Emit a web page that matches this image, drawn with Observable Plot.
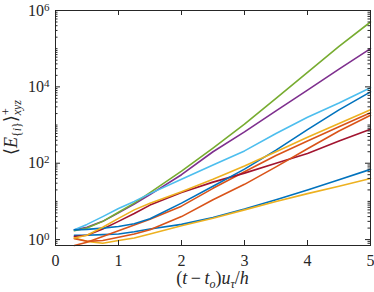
<!DOCTYPE html>
<html><head><meta charset="utf-8">
<script src="https://cdn.jsdelivr.net/npm/d3@7"></script>
<script src="https://cdn.jsdelivr.net/npm/@observablehq/plot@0.6"></script>
<style>
html,body{margin:0;padding:0;background:#fff;}
svg, svg text { font-family: "Liberation Serif", "DejaVu Serif", "Nimbus Roman", "Nimbus Roman No9 L", "FreeSerif", "Noto Serif", "Tinos", "Times New Roman", Times, serif !important; }
</style>
</head><body><div id="chart"></div>
<script>
// ---- data ----
const times = [0.3, 0.5, 0.75, 1, 1.25, 1.5, 2, 2.5, 3, 3.5, 4, 4.5, 5];
const seriesNames = ["blueLow", "orangeA", "yellowLow", "purple", "green", "lightBlue", "darkRed", "blueUp", "orangeB", "yellowUp"];
const blueLow   = [1.3, 1.3, 1.35, 1.4, 1.6, 1.9, 2.5, 3.8, 6.3, 11, 20, 37, 69];
const orangeA   = [0.7, 0.85, 1.2, 1.7, 2.4, 3.4, 7.5, 22, 60, 160, 380, 900, 2100];
const yellowLow = [1.1, 0.9, 0.8, 0.95, 1.1, 1.4, 2.3, 3.6, 6, 10, 16, 25, 40];
const purple    = [1.8, 2.1, 3, 5, 8.5, 15, 50, 200, 660, 2350, 8200, 29000, 100000];
const green     = [1.7, 2.0, 3.0, 5.2, 9, 17, 62, 250, 1050, 5000, 24000, 115000, 500000];
const lightBlue = [1.8, 2.5, 4, 6.5, 10, 16, 38, 90, 210, 600, 1600, 3800, 9500];
const darkRed   = [1.2, 1.3, 1.9, 3, 4.8, 8, 17, 32, 55, 100, 180, 380, 780];
const blueUp    = [1.8, 1.85, 2.0, 2.2, 2.6, 3.5, 9, 25, 70, 220, 760, 2500, 7400];
const orangeB   = [1.05, 0.9, 0.95, 1.15, 1.4, 1.8, 4, 11, 28, 80, 240, 700, 1800];
const yellowUp  = [1.1, 1.3, 2.1, 3.6, 6, 9, 18, 38, 85, 200, 480, 1100, 2500];
const xTickValues = [0, 1, 2, 3, 4, 5];
const xTickLabels = ["0", "1", "2", "3", "4", "5"];
const yTickValues = [1, 100, 10000, 1000000];
const yTickLabels = ["10^0", "10^2", "10^4", "10^6"];

// ---- styles ----
const seriesColors = ["#0072BD", "#D95319", "#EDB120", "#7E2F8E", "#77AC30", "#4DBEEE", "#A2142F", "#0072BD", "#D95319", "#EDB120"];
const W = 374, H = 292, mL = 55, mR = 4, mT = 10, mB = 47;
const plotW = W - mL - mR, plotH = H - mT - mB;
const axisColor = "#262626";
const serif = '"Liberation Serif", "DejaVu Serif", "Nimbus Roman", "FreeSerif", "Noto Serif", "Times New Roman", serif';

const allSeries = [blueLow, orangeA, yellowLow, purple, green, lightBlue, darkRed, blueUp, orangeB, yellowUp];
const table = [];
allSeries.forEach((vals, k) => vals.forEach((v, i) => table.push({t: times[i], v, s: seriesNames[k]})));

// minor tick positions on the log axis
const yMinor = [];
for (let e = -1; e <= 5; e++) for (let m = 1; m <= 9; m++) {
  const v = m * Math.pow(10, e);
  if (v >= 0.7 && v <= 1e6 && !yTickValues.includes(v)) yMinor.push(v);
}
const xLabelMap = new Map(xTickValues.map((d, i) => [d, xTickLabels[i]]));
const yLabelMap = new Map(yTickValues.map((d, i) => [d, yTickLabels[i]]));

const chart = Plot.plot({
  width: W, height: H,
  marginLeft: mL, marginRight: mR, marginTop: mT, marginBottom: mB,
  style: {fontFamily: serif, fontSize: "16px", background: "#fff", color: axisColor},
  x: {domain: [0, 5]},
  y: {type: "log", domain: [0.7, 1e6]},
  color: {domain: seriesNames, range: seriesColors},
  marks: [
    Plot.line(table, {x: "t", y: "v", z: "s", stroke: "s", strokeWidth: 1.6}),
    Plot.frame({stroke: axisColor, strokeWidth: 1}),
    Plot.tickX(xTickValues, {x: d => d, insetTop: plotH - 5, stroke: axisColor}),
    Plot.tickX(xTickValues, {x: d => d, insetBottom: plotH - 5, stroke: axisColor}),
    Plot.tickY(yTickValues, {y: d => d, insetRight: plotW - 5, stroke: axisColor}),
    Plot.tickY(yTickValues, {y: d => d, insetLeft: plotW - 5, stroke: axisColor}),
    Plot.tickY(yMinor, {y: d => d, insetRight: plotW - 2.5, stroke: axisColor}),
    Plot.tickY(yMinor, {y: d => d, insetLeft: plotW - 2.5, stroke: axisColor}),
    Plot.axisX(xTickValues, {anchor: "bottom", tickSize: 0, tickPadding: 9, tickFormat: d => xLabelMap.get(d), label: null, fill: axisColor}),
    Plot.axisY(yTickValues, {anchor: "left", tickSize: 0, tickPadding: 6, tickFormat: d => yLabelMap.get(d), label: null, fill: axisColor})
  ]
});
document.getElementById("chart").appendChild(chart);

// superscripts on the y tick labels
const NS = "http://www.w3.org/2000/svg";
chart.querySelectorAll("text").forEach(t => {
  const m = /^10\^(\d+)$/.exec(t.textContent);
  if (m) {
    t.textContent = "10";
    const sup = document.createElementNS(NS, "tspan");
    sup.setAttribute("dy", "-0.45em");
    sup.setAttribute("font-size", "11px");
    sup.textContent = m[1];
    t.appendChild(sup);
  }
});

// axis labels
function addText(markup, attrs) {
  const t = document.createElementNS(NS, "text");
  for (const k in attrs) t.setAttribute(k, attrs[k]);
  t.style.fontFamily = serif;
  t.innerHTML = markup;
  chart.appendChild(t);
  return t;
}
addText(
  '(<tspan font-style="italic">t</tspan>\u2009\u2212\u2009<tspan font-style="italic">t</tspan><tspan font-style="italic" font-size="12" dy="4">o</tspan><tspan dy="-4">)</tspan><tspan font-style="italic">u</tspan><tspan font-style="italic" font-size="12" dy="4">\u03c4</tspan><tspan dy="-4">/</tspan><tspan font-style="italic">h</tspan>',
  {x: mL + plotW / 2, y: 284, "text-anchor": "middle", "font-size": "18", fill: axisColor}
);
addText(
  '\u27e8<tspan font-style="italic">E</tspan><tspan font-size="12" dy="4">{<tspan font-style="italic">i</tspan>}</tspan><tspan dy="-4">\u27e9</tspan><tspan font-size="12" dy="-7">+</tspan><tspan font-size="12" font-style="italic" dx="-7" dy="11">xyz</tspan>',
  {transform: `translate(17, ${mT + plotH / 2}) rotate(-90)`, "text-anchor": "middle", "font-size": "18", fill: axisColor}
);
</script>
</body></html>
